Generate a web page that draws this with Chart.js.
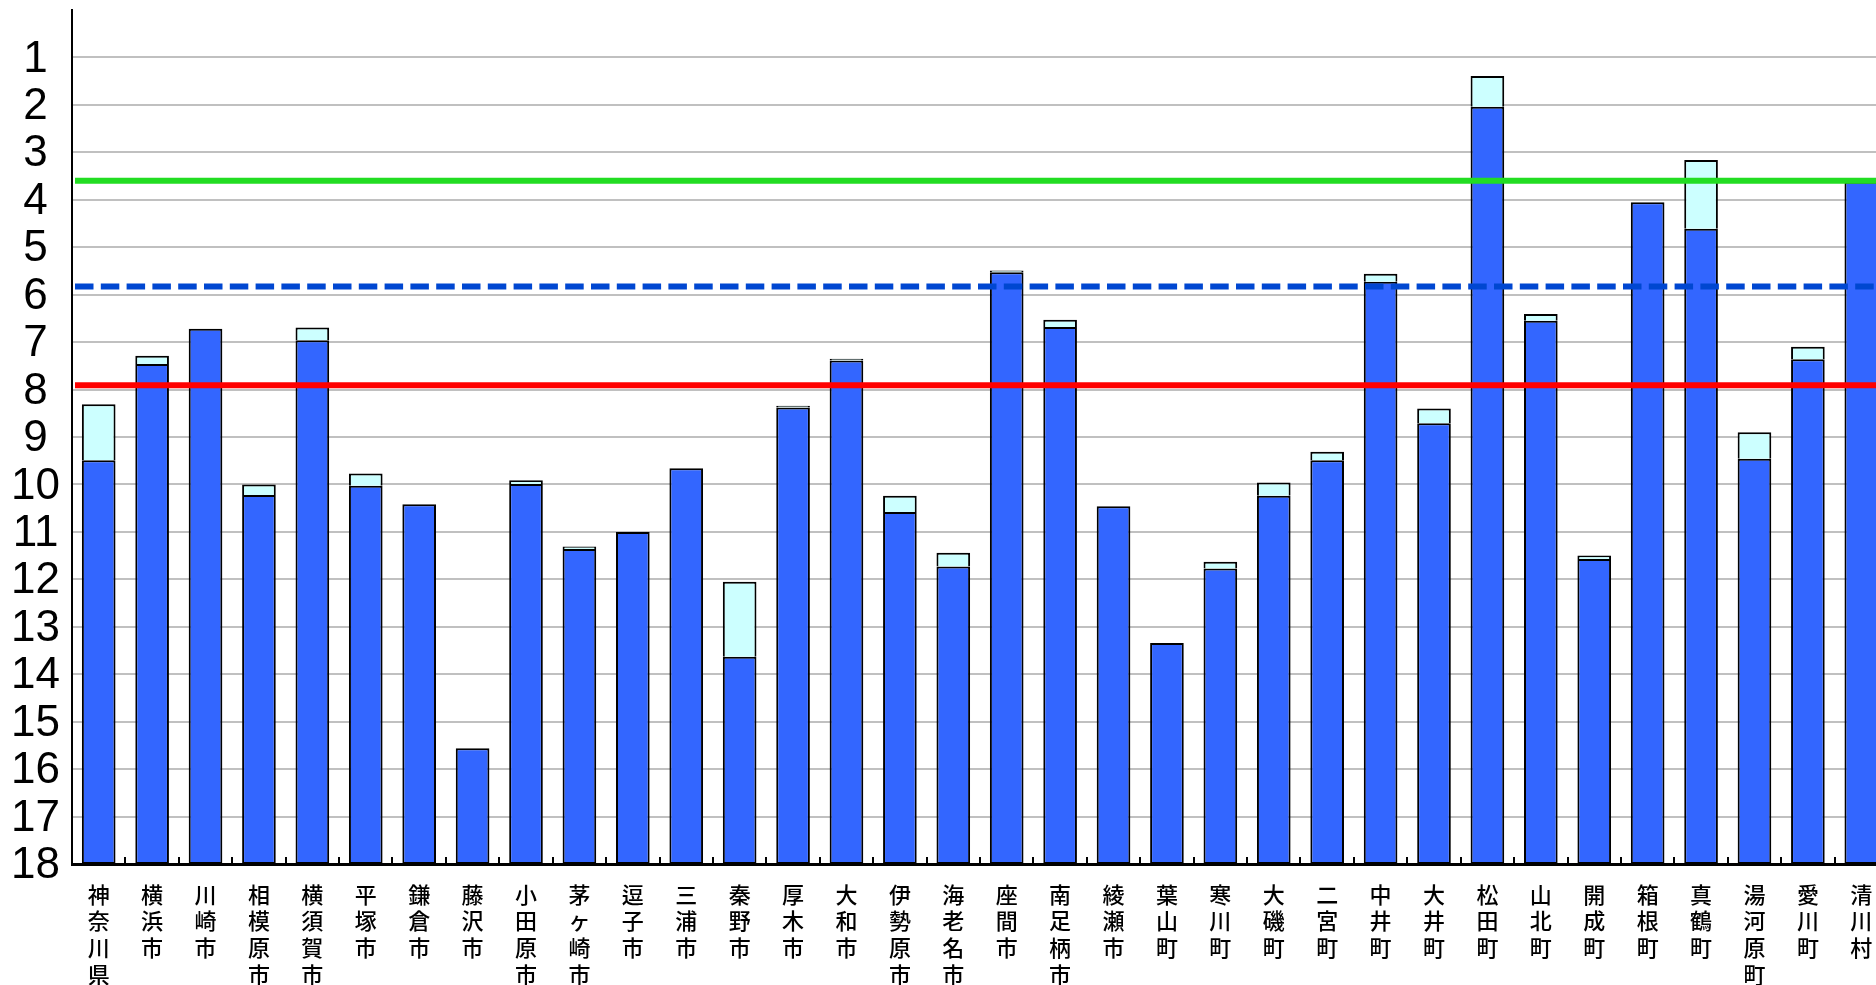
<!DOCTYPE html>
<html lang="ja">
<head>
<meta charset="utf-8">
<title>市町村別 順位</title>
<script src="https://cdn.jsdelivr.net/npm/chart.js@4.4.1/dist/chart.umd.min.js"></script>
<style>
  html, body { margin: 0; padding: 0; background: #ffffff; overflow: hidden; }
  #wrap { position: absolute; left: 0; top: 0; width: 1890px; height: 985px; }
</style>
</head>
<body>
<div id="wrap"><canvas id="chart"></canvas></div>
<script>
// Municipalities of Kanagawa (prefecture total first)
const categories = [
  '神奈川県', '横浜市', '川崎市', '相模原市', '横須賀市', '平塚市', '鎌倉市', '藤沢市',
  '小田原市', '茅ヶ崎市', '逗子市', '三浦市', '秦野市', '厚木市', '大和市', '伊勢原市',
  '海老名市', '座間市', '南足柄市', '綾瀬市', '葉山町', '寒川町', '大磯町', '二宮町',
  '中井町', '大井町', '松田町', '山北町', '開成町', '箱根町', '真鶴町', '湯河原町',
  '愛川町', '清川村'
];

// Main bar value (blue) for each municipality
const mainValues = [
  9.49, 7.46, 6.72, 10.22, 6.96, 10.03, 10.42, 15.56,
  9.99, 11.36, 11.00, 9.66, 13.63, 8.38, 7.39, 10.58,
  11.73, 5.53, 6.68, 10.46, 13.34, 11.77, 10.24, 9.49,
  5.73, 8.71, 2.04, 6.55, 11.57, 4.05, 4.61, 9.46,
  7.36, 3.62
];

// Extended value (light cyan segment above the blue bar); null where there is none
const extValues = [
  8.31, 7.29, null, 10.00, 6.69, 9.77, null, null,
  9.91, 11.31, null, null, 12.05, 8.34, 7.35, 10.24,
  11.44, 5.49, 6.53, null, null, 11.63, 9.96, 9.31,
  5.56, 8.40, 1.39, 6.41, 11.50, null, 3.16, 8.90,
  7.10, null
];

// Reference levels drawn across the whole plot
const refGreen = 3.60;
const refBlueDashed = 5.83;
const refRed = 7.91;

// Axis range and tick labels
const axisMin = 0;
const axisMax = 18;
const tickValues = [1, 2, 3, 4, 5, 6, 7, 8, 9, 10, 11, 12, 13, 14, 15, 16, 17, 18];

const labels = categories.map(name => Array.from(name));
const blueData = mainValues.map(v => [axisMax, v]);
const cyanData = extValues.map((v, i) => (v === null ? null : [mainValues[i], v]));

const refLines = [
  { value: refGreen, color: '#22dd22', dash: [] },
  { value: refBlueDashed, color: '#0047d1', dash: [18.5, 7.3] },
  { value: refRed, color: '#ff0000', dash: [] }
];

const overlayPlugin = {
  id: 'overlay',
  afterDatasetsDraw(chart) {
    const { ctx, chartArea, scales } = chart;
    const x = scales.x, y = scales.y;
    ctx.save();
    // small inward tick marks at category boundaries
    ctx.strokeStyle = '#000000';
    ctx.lineWidth = 2;
    for (let i = 1; i < categories.length; i++) {
      const px = Math.round((x.getPixelForValue(i - 1) + x.getPixelForValue(i)) / 2);
      ctx.beginPath();
      ctx.moveTo(px, chartArea.bottom);
      ctx.lineTo(px, chartArea.bottom - 7);
      ctx.stroke();
    }
    // reference levels
    ctx.lineWidth = 6;
    ctx.lineCap = 'butt';
    refLines.forEach(line => {
      const py = y.getPixelForValue(line.value);
      ctx.strokeStyle = line.color;
      ctx.setLineDash(line.dash);
      ctx.beginPath();
      ctx.moveTo(chartArea.left + 3, py);
      ctx.lineTo(chart.width, py);
      ctx.stroke();
    });
    ctx.restore();
  }
};

new Chart(document.getElementById('chart'), {
  type: 'bar',
  data: {
    labels: labels,
    datasets: [
      {
        label: 'ext',
        data: cyanData,
        backgroundColor: '#ccffff',
        borderColor: '#000000',
        borderWidth: 2,
        // the lower edge is already outlined by the blue bar beneath
        borderSkipped: 'end',
        grouped: false,
        barPercentage: 0.63,
        categoryPercentage: 1.0
      },
      {
        label: 'main',
        data: blueData,
        backgroundColor: '#3366ff',
        borderColor: '#000000',
        borderWidth: 2,
        borderSkipped: false,
        grouped: false,
        barPercentage: 0.63,
        categoryPercentage: 1.0
      }
    ]
  },
  options: {
    responsive: true,
    maintainAspectRatio: false,
    animation: false,
    devicePixelRatio: 1,
    layout: { padding: { top: 10, left: 0, right: 2, bottom: 0 } },
    plugins: { legend: { display: false }, tooltip: { enabled: false } },
    scales: {
      x: {
        type: 'category',
        offset: true,
        grid: { display: true, drawOnChartArea: false, drawTicks: false },
        border: { display: true, color: '#000000', width: 3 },
        ticks: {
          autoSkip: false,
          maxRotation: 0,
          minRotation: 0,
          padding: 17,
          color: '#000000',
          font: { family: '"Noto Sans CJK JP", "Noto Sans CJK SC", sans-serif', size: 22, weight: 500, lineHeight: 1.21 }
        },
        afterFit(scale) {
          scale.height = 121;
          scale.paddingLeft = 0;
          scale.paddingRight = 0;
        }
      },
      y: {
        type: 'linear',
        reverse: true,
        min: axisMin,
        max: axisMax,
        afterBuildTicks(scale) {
          scale.ticks = [{ value: axisMin }].concat(tickValues.map(v => ({ value: v })));
        },
        grid: {
          drawTicks: false,
          lineWidth: 2,
          color: ctx => (ctx.tick && (ctx.tick.value === axisMin || ctx.tick.value === axisMax) ? '#000000' : '#c0c0c0')
        },
        border: { display: true, color: '#000000', width: 2 },
        ticks: {
          autoSkip: false,
          padding: 12,
          labelOffset: 2,
          crossAlign: 'center',
          color: '#000000',
          font: { family: '"Liberation Sans", Arial, sans-serif', size: 44 },
          callback: v => (v === axisMin ? null : String(v))
        },
        afterFit(scale) {
          scale.width = 72;
          scale.paddingTop = 0;
          scale.paddingBottom = 0;
        }
      }
    }
  },
  plugins: [overlayPlugin]
});
</script>
</body>
</html>
